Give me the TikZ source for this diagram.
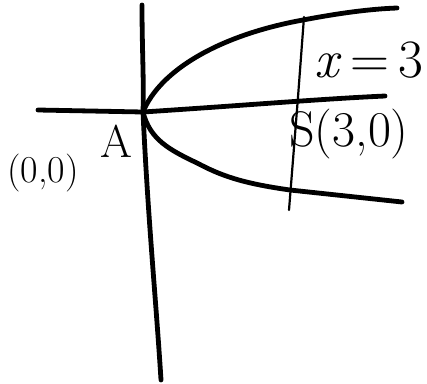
\documentclass[tikz,border=0pt]{standalone}
\usepackage{amsmath}
\usepackage{tikz}
\usetikzlibrary{positioning, calc}

\begin{document}
\begin{tikzpicture}[x=1pt,y=-1pt,
    axis/.style={line width=4.8pt,line cap=round},
    curve/.style={line width=4.8pt,line cap=round},
    vline/.style={line width=2.2pt,line cap=round},
    lbl/.style={inner sep=0pt,font=\fontsize{36}{40}\selectfont}]
  \useasboundingbox (0,0) rectangle (427,383);
  \coordinate (O) at (143,112);
  \coordinate (S) at (298,97);
  % axes
  \draw[axis] (38,110) -- (O) .. controls (250,105) and (320,99) .. (385,96);
  \draw[axis] (142,5) .. controls (142,50) and (144,80) .. (O)
              .. controls (148,220) and (156,300) .. (161,380);
  % parabola
  \draw[curve] (O) .. controls (160,70) and (220,35) .. (303,20)
               .. controls (340,13) and (370,9) .. (397,8);
  \draw[curve] (O) .. controls (150,140) and (170,150) .. (197,163)
               .. controls (220,175) and (240,183) .. (290,190) -- (402,202);
  % line x=3
  \draw[vline] (304,17) -- (S) -- (289,210);
  % labels
  \node[lbl,font=\fontsize{54}{58}\selectfont] (xeq) at (369,60) {\textit{x}\,=\,3};
  \node[lbl,font=\fontsize{50}{54}\selectfont] (Slbl) at (349,134) {S(3,0)};
  \node[lbl,font=\fontsize{46}{50}\selectfont] (A) at (116,141) {A};
  \node[lbl,font=\fontsize{38}{42}\selectfont] (orig) at (43,173) {(0,0)};
\end{tikzpicture}
\end{document}
